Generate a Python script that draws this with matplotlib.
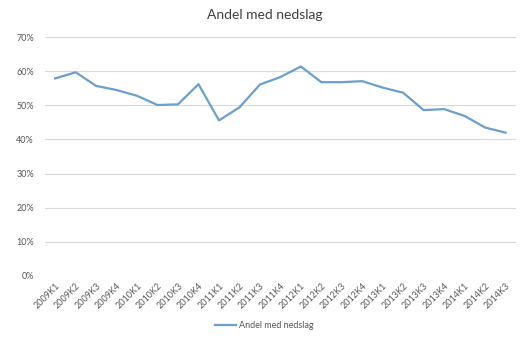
import numpy as np
import matplotlib.pyplot as plt
from matplotlib.ticker import PercentFormatter

plt.rcParams['font.family'] = ['Lato', 'DejaVu Sans']

kvartal = ['2009K1', '2009K2', '2009K3', '2009K4',
           '2010K1', '2010K2', '2010K3', '2010K4',
           '2011K1', '2011K2', '2011K3', '2011K4',
           '2012K1', '2012K2', '2012K3', '2012K4',
           '2013K1', '2013K2', '2013K3', '2013K4',
           '2014K1', '2014K2', '2014K3']
andel = [0.579, 0.597, 0.557, 0.545, 0.528, 0.501, 0.503, 0.562,
         0.456, 0.494, 0.561, 0.583, 0.614, 0.568, 0.568, 0.571,
         0.552, 0.537, 0.486, 0.489, 0.469, 0.435, 0.420]

fig = plt.figure(figsize=(5.29, 3.44), dpi=100)
ax = fig.add_axes([0.085, 0.198, 0.89, 0.694])

x = np.arange(len(kvartal))
ax.plot(x, andel, color='#6a9fcf', lw=1.6, label='Andel med nedslag')

ax.set_ylim(0, 0.7)
ax.set_yticks(np.arange(0, 0.71, 0.1))
ax.yaxis.set_major_formatter(PercentFormatter(1.0, decimals=0))
ax.set_xlim(-0.5, len(kvartal) - 0.5)
ax.set_xticks(x)
ax.set_xticklabels(kvartal, rotation=45, ha='right', rotation_mode='anchor')
ax.tick_params(axis='both', length=0, labelsize=6.5, colors='#595959')
ax.tick_params(axis='y', pad=8)
ax.tick_params(axis='x', pad=4)

ax.grid(axis='y', color='#d9d9d9', lw=0.8)
ax.set_axisbelow(True)
for s in ax.spines.values():
    s.set_visible(False)

fig.suptitle('Andel med nedslag', y=0.975, fontsize=10, color='#404040')
fig.legend(loc='center', bbox_to_anchor=(0.5, 0.053), frameon=False,
           fontsize=6.5, labelcolor='#595959', handlelength=2.3, handletextpad=0.3)

fig.savefig('out.png', dpi=100)
